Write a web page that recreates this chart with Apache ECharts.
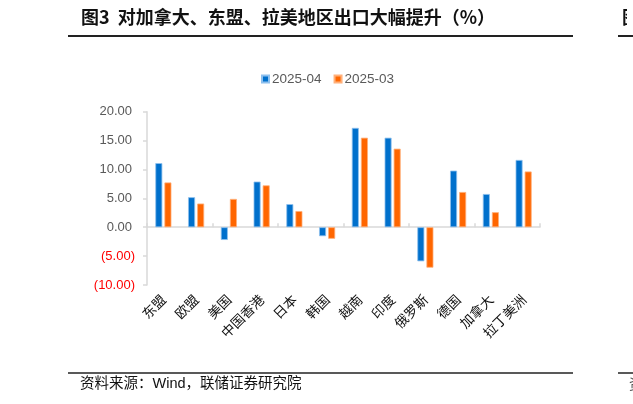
<!DOCTYPE html>
<html>
<head>
<meta charset="utf-8">
<script src="https://cdn.jsdelivr.net/npm/echarts@6/dist/echarts.min.js"></script>
<style>
html,body{margin:0;padding:0;background:#fff;}
#c{width:633px;height:404px;}
</style>
</head>
<body>
<div id="c"></div>
<script>
var categories = ['东盟','欧盟','美国','中国香港','日本','韩国','越南','印度','俄罗斯','德国','加拿大','拉丁美洲'];
var seriesNames = ['2025-04','2025-03'];
var apr2025 = [11.1, 5.2, -2.2, 7.9, 4.0, -1.55, 17.2, 15.5, -5.9, 9.8, 5.75, 11.65];
var mar2025 = [7.75, 4.1, 4.9, 7.25, 2.8, -2.0, 15.5, 13.6, -7.0, 6.1, 2.6, 9.65];
var titleText = '图3  对加拿大、东盟、拉美地区出口大幅提升（%）';
var sourceText = '资料来源：Wind，联储证券研究院';

var chart = echarts.init(document.getElementById('c'), null, {renderer:'canvas'});
var cjk = '"Noto Sans CJK SC", sans-serif';
var latin = '"Liberation Sans", Arial, sans-serif';
var mixed = '"Liberation Sans", "Noto Sans CJK SC", sans-serif';

chart.setOption({
  backgroundColor:'#fff',
  animation:false,
  legend:{
    data:seriesNames,
    left:256, top:67,
    itemWidth:7, itemHeight:7, itemGap:12,
    icon:'rect',
    textStyle:{fontSize:13.5, color:'#595959', fontFamily:latin, padding:[0,0,0,-2]}
  },
  grid:{left:147, right:93, top:111.7, bottom:119, containLabel:false},
  xAxis:[{
    type:'category', data:categories, position:'bottom',
    axisLine:{show:false, onZero:false},
    axisTick:{show:false},
    axisLabel:{rotate:45, interval:0, fontSize:13.5, color:'#111', fontFamily:cjk, margin:12}
  },{
    type:'category', data:categories, position:'bottom',
    axisLine:{show:true, onZero:true, lineStyle:{color:'#d9d9d9', width:1.5}},
    axisTick:{show:true, inside:true, length:4, lineStyle:{color:'#d9d9d9', width:1.5}},
    axisLabel:{show:false}
  }],
  yAxis:{
    type:'value', min:-10, max:20, interval:5,
    axisLine:{show:true, lineStyle:{color:'#d9d9d9', width:1.5}},
    axisTick:{show:true, length:4, lineStyle:{color:'#d9d9d9', width:1.5}},
    splitLine:{show:false},
    axisLabel:{
      margin:12, fontSize:13, fontFamily:latin,
      formatter:function(v){
        if(v<0) return '{n|(' + Math.abs(v).toFixed(2) + ')}';
        return '{p|' + v.toFixed(2) + '}';
      },
      rich:{
        n:{color:'#ff0000', fontSize:13, fontFamily:latin},
        p:{color:'#595959', fontSize:13, fontFamily:latin, padding:[0,3,0,0]}
      }
    }
  },
  series:[{
    name:seriesNames[0], type:'bar', data:apr2025, xAxisIndex:0,
    barWidth:7, barGap:'30%',
    itemStyle:{color:'#0070CC', borderColor:'#8EC0EE', borderWidth:0.8}
  },{
    name:seriesNames[1], type:'bar', data:mar2025, xAxisIndex:0,
    barWidth:7, barGap:'30%',
    itemStyle:{color:'#FF6600', borderColor:'#FFB07A', borderWidth:0.8}
  }],
  graphic:[
    {type:'text', x:81, y:8, style:{text:titleText, font:'bold 18px ' + cjk, fill:'#111'}},
    {type:'line', shape:{x1:68, y1:36, x2:573, y2:36}, style:{stroke:'#222', lineWidth:2}},
    {type:'line', shape:{x1:618, y1:36, x2:640, y2:36}, style:{stroke:'#222', lineWidth:2}},
    {type:'text', x:622, y:8, style:{text:'图4', font:'bold 18px ' + cjk, fill:'#111'}},
    {type:'rect', shape:{x:627, y:4, width:10, height:28}, style:{fill:'#fff'}},
    {type:'line', shape:{x1:68, y1:373, x2:573, y2:373}, style:{stroke:'#222', lineWidth:1.5}},
    {type:'line', shape:{x1:618, y1:373, x2:640, y2:373}, style:{stroke:'#222', lineWidth:1.5}},
    {type:'text', x:80, y:377, style:{text:sourceText, font:'14.5px ' + mixed, fill:'#111'}},
    {type:'text', x:629, y:377, style:{text:'资料', font:'14px ' + cjk, fill:'#555'}}
  ]
});
</script>
</body>
</html>
